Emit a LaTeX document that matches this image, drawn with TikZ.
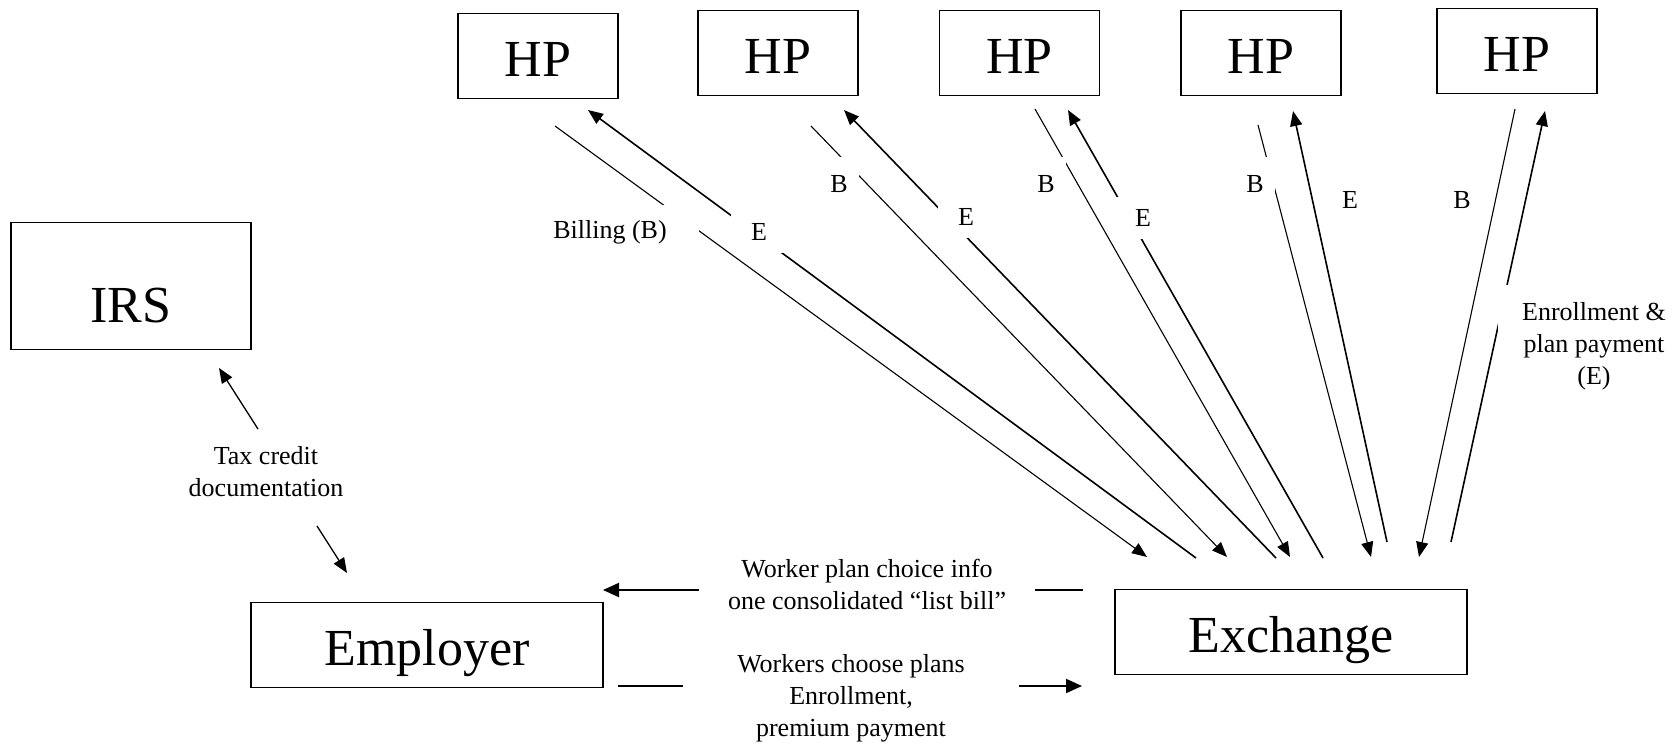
\documentclass[tikz,border=0pt]{standalone}
\usepackage{fontspec}
\setmainfont{Liberation Serif}
\usetikzlibrary{positioning,arrows.meta}
\tikzset{
  box/.style={rectangle,draw,line width=1.4pt,minimum width=160pt,
              minimum height=85pt,inner sep=0pt,text height=40pt,text depth=0pt,
              font=\fontsize{52}{60}\selectfont},
  tag/.style={fill=white,inner sep=0pt,align=center,
              font=\fontsize{26}{32}\selectfont},
  etag/.style={tag,minimum width=56pt,minimum height=42pt},
  btag/.style={tag,minimum width=40pt,minimum height=54pt},
  flow/.style={line width=1.1pt},
  edge/.style={-{Triangle[length=15pt,width=12pt]},line width=1.6pt},
  link/.style={-{Triangle[length=16pt,width=14pt]},line width=2pt},
}

\begin{document}
\begin{tikzpicture}[x=1pt,y=-1pt]
\useasboundingbox (0,0) rectangle (1680,744);

% boxes
\node[box] (hp1) at (538,56) {HP};
\node[box] (hp2) at (778,53) {HP};
\node[box, right=80pt of hp2] (hp3) {HP};
\node[box, right=80pt of hp3] (hp4) {HP};
\node[box] (hp5) at (1517,51) {HP};
\node[box, minimum width=240pt, minimum height=127pt, text height=72pt] (irs) at (131,286) {IRS};
\node[box, minimum width=352pt] (emp) at (427,645) {Employer};
\node[box, minimum width=352pt] (exch) at (1291,632) {Exchange};

% free ends of the HP <-> Exchange flows
\coordinate (b1a) at (555,126);  \coordinate (b1b) at (1147,557);
\coordinate (e1a) at (1196,558); \coordinate (e1b) at (588,110);
\coordinate (b2a) at (811,126);  \coordinate (b2b) at (1227,557);
\coordinate (e2a) at (1276,558); \coordinate (e2b) at (844,110);
\coordinate (b3a) at (1035,109); \coordinate (b3b) at (1290,557);
\coordinate (e3a) at (1323,558); \coordinate (e3b) at (1068,110);
\coordinate (b4a) at (1258,125); \coordinate (b4b) at (1371,557);
\coordinate (e4a) at (1387,542); \coordinate (e4b) at (1293,111);
\coordinate (b5a) at (1515,109); \coordinate (b5b) at (1419,557);
\coordinate (e5a) at (1451,542); \coordinate (e5b) at (1545,111);
% employer, exchange, IRS
\coordinate (upa) at (1083,590); \coordinate (upb) at (603,590);
\coordinate (dna) at (618,686);  \coordinate (dnb) at (1082,686);
\coordinate (tx1a) at (258,429); \coordinate (tx1b) at (219,368);
\coordinate (tx2a) at (317,526); \coordinate (tx2b) at (347,573);

\draw[flow,-{Triangle[length=15pt,width=12pt]}] (b1a) -- (b1b);
\draw[edge] (e1a) -- (e1b);
\draw[flow,-{Triangle[length=15pt,width=12pt]}] (b2a) -- (b2b);
\draw[edge] (e2a) -- (e2b);
\draw[flow,-{Triangle[length=15pt,width=12pt]}] (b3a) -- (b3b);
\draw[edge] (e3a) -- (e3b);
\draw[flow,-{Triangle[length=15pt,width=12pt]}] (b4a) -- (b4b);
\draw[edge] (e4a) -- (e4b);
\draw[flow,-{Triangle[length=15pt,width=12pt]}] (b5a) -- (b5b);
\draw[edge] (e5a) -- (e5b);
\draw[link] (upa) -- (upb);
\draw[link] (dna) -- (dnb);
\draw[edge,line width=1.3pt] (tx1a) -- (tx1b);
\draw[edge,line width=1.3pt] (tx2a) -- (tx2b);

% labels (white boxes cut the lines)
\node[tag, minimum width=178pt, minimum height=54pt] (bill) at (610,232) {Billing (B)};
\node[etag] (e1) at (759,232) {E};
\node[btag] (b2) at (839,184) {B};
\node[etag] (e2) at (966,217) {E};
\node[btag] (b3) at (1046,184) {B};
\node[etag] (e3) at (1143,218) {E};
\node[btag] (b4) at (1255,184) {B};
\node[etag] (e4) at (1350,200) {E};
\node[btag] (b5) at (1462,200) {B};
\node[tag, minimum width=192pt, minimum height=122pt] (enrol) at (1594,346)
      {Enrollment \&\\plan payment\\(E)};
\node[tag, fill=none] (tax) at (266,472) {Tax credit\\documentation};
\node[tag, minimum width=336pt] (choice) at (867,584)
      {Worker plan choice info\\one consolidated “list bill”};
\node[tag, minimum width=336pt] (choose) at (851,698)
      {Workers choose plans\\Enrollment,\\premium payment};
\end{tikzpicture}
\end{document}
